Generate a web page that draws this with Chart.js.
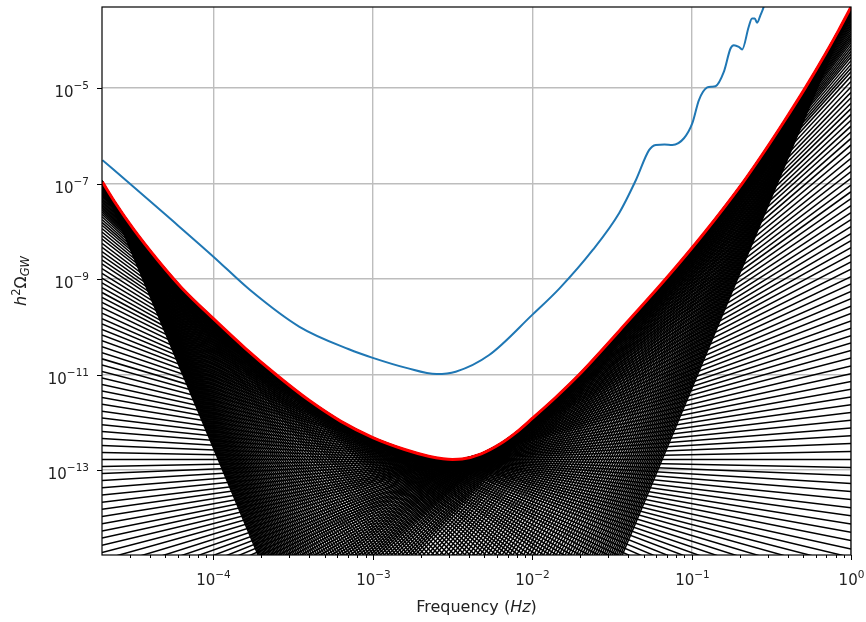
<!DOCTYPE html>
<html>
<head>
<meta charset="utf-8">
<script src="https://cdn.jsdelivr.net/npm/chart.js@4/dist/chart.umd.min.js"></script>
<style>
  html, body { margin: 0; padding: 0; background: #fff; }
</style>
</head>
<body>
<canvas id="plsChart" width="866" height="622"></canvas>
<script>
// power-law integrated sensitivity (log10 units)
const plsLogFreq  = [-4.696, -4.62, -4.5, -4.35, -4.2, -4.0, -3.8, -3.6, -3.4, -3.2, -3.0, -2.8, -2.65, -2.56, -2.5, -2.44, -2.32, -2.2, -2.1, -2.0, -1.85, -1.705, -1.45, -1.163, -0.92, -0.683, -0.55, -0.42, -0.286, -0.16, -0.077, 0];
const plsLogOmega = [-6.97, -7.38, -7.96, -8.60, -9.18, -9.83, -10.45, -11.02, -11.54, -11.98, -12.32, -12.57, -12.71, -12.765, -12.78, -12.77, -12.66, -12.45, -12.21, -11.92, -11.47, -11.0, -10.07, -9.0, -8.03, -7.0, -6.36, -5.7, -4.99, -4.28, -3.785, -3.30];

// detector noise curve (blue)
const noiseLogFreq  = [-4.696, -4.5, -4.29, -4.0, -3.77, -3.46, -3.15, -3.0, -2.79, -2.6, -2.48, -2.27, -2.0, -1.83, -1.62, -1.455, -1.35, -1.267, -1.225, -1.17, -1.121, -1.048, -0.996, -0.954, -0.902, -0.875, -0.85, -0.798, -0.756, -0.735, -0.704, -0.683, -0.642, -0.621, -0.604, -0.589, -0.568, -0.548, -0.52];
const noiseLogOmega = [-6.51, -7.07, -7.68, -8.53, -9.23, -10.0, -10.47, -10.65, -10.86, -10.99, -10.94, -10.59, -9.75, -9.2, -8.39, -7.62, -6.93, -6.30, -6.19, -6.18, -6.19, -6.05, -5.74, -5.25, -4.985, -4.97, -4.96, -4.66, -4.17, -4.10, -4.135, -4.19, -3.72, -3.54, -3.54, -3.63, -3.47, -3.30, -2.90];

// power-law slopes of the black lines
const slopeFirst = -8;
const slopeLast = 8;
const slopeCount = 241;

const xTickValues = [1e-4, 1e-3, 1e-2, 1e-1, 1];
const yTickValues = [1e-13, 1e-11, 1e-9, 1e-7, 1e-5];
const xRange = [2e-5, 1];
const yRange = [1.66e-15, 5e-4];

const FONT = '"DejaVu Sans", "Liberation Sans", sans-serif';
const GRID = '#bdbdbd';
const TEXT = '#222';

function isMajor(v, list) {
    return list.some(t => Math.abs(Math.log10(t) - Math.log10(v)) < 1e-6);
}

// "10" with a raised exponent, like matplotlib's log labels
function drawPow(ctx, v, x, y, align) {
    const e = Math.round(Math.log10(v));
    const base = '10';
    const ex = (e < 0 ? '\u2212' : '') + Math.abs(e);
    ctx.font = '15px ' + FONT;
    const wb = ctx.measureText(base).width;
    ctx.font = '10.5px ' + FONT;
    const we = ctx.measureText(ex).width;
    const x0 = align === 'right' ? x - wb - we : x - (wb + we) / 2;
    ctx.font = '15px ' + FONT;
    ctx.fillText(base, x0, y);
    ctx.font = '10.5px ' + FONT;
    ctx.fillText(ex, x0 + wb, y - 7.5);
}

// x ticks: majors + minor 2..9 per decade
const xMinor = [];
for (let d = -5; d < 0; d++) {
    for (let k = 2; k <= 9; k++) {
        const v = k * Math.pow(10, d);
        if (v > xRange[0] && v < xRange[1]) xMinor.push(v);
    }
}
const xAllTicks = xTickValues.concat(xMinor).sort((a, b) => a - b);

const plsData = plsLogFreq.map((lf, i) => ({ x: Math.pow(10, lf), y: Math.pow(10, plsLogOmega[i]) }));
const noiseData = noiseLogFreq.map((lf, i) => ({ x: Math.pow(10, lf), y: Math.pow(10, noiseLogOmega[i]) }));

// each power law touches the sensitivity envelope from below
const lxMin = Math.log10(xRange[0]);
const lxMax = Math.log10(xRange[1]);
const powerLawSets = [];
for (let i = 0; i < slopeCount; i++) {
    const beta = slopeFirst + (slopeLast - slopeFirst) * i / (slopeCount - 1);
    let logAmp = Infinity;
    plsLogFreq.forEach((lf, j) => {
        logAmp = Math.min(logAmp, plsLogOmega[j] - beta * lf);
    });
    powerLawSets.push({
        data: [
            { x: xRange[0], y: Math.pow(10, logAmp + beta * lxMin) },
            { x: xRange[1], y: Math.pow(10, logAmp + beta * lxMax) }
        ],
        borderColor: '#000',
        borderWidth: 1.5,
        pointRadius: 0,
        clip: 0
    });
}

const axisDecor = {
    id: 'axisDecor',
    afterDraw(chart) {
        const { ctx, chartArea: a, scales } = chart;
        ctx.save();
        ctx.strokeStyle = '#000';
        ctx.fillStyle = TEXT;
        ctx.lineWidth = 1;
        ctx.textBaseline = 'alphabetic';
        ctx.textAlign = 'left';
        // tick marks + labels
        xAllTicks.forEach(v => {
            const px = Math.round(scales.x.getPixelForValue(v)) + 0.5;
            const major = isMajor(v, xTickValues);
            ctx.beginPath();
            ctx.moveTo(px, a.bottom);
            ctx.lineTo(px, a.bottom + (major ? 5 : 3));
            ctx.stroke();
            if (major) drawPow(ctx, v, px, 585, 'center');
        });
        yTickValues.forEach(v => {
            const py = Math.round(scales.y.getPixelForValue(v)) + 0.5;
            ctx.beginPath();
            ctx.moveTo(a.left, py);
            ctx.lineTo(a.left - 5, py);
            ctx.stroke();
            drawPow(ctx, v, 89, py + 8, 'right');
        });
        // frame
        ctx.lineWidth = 1.2;
        ctx.strokeRect(a.left, a.top, a.right - a.left, a.bottom - a.top);

        // x title: Frequency (Hz)
        const xParts = [
            { t: 'Frequency ', f: '16px ' + FONT },
            { t: '(', f: '16px ' + FONT },
            { t: 'Hz', f: 'italic 16px ' + FONT },
            { t: ')', f: '16px ' + FONT }
        ];
        let w = 0;
        xParts.forEach(p => { ctx.font = p.f; p.w = ctx.measureText(p.t).width; w += p.w; });
        let cx = (a.left + a.right) / 2 - w / 2;
        xParts.forEach(p => { ctx.font = p.f; ctx.fillText(p.t, cx, 612); cx += p.w; });

        // y title: h^2 Omega_GW
        ctx.translate(26, (a.top + a.bottom) / 2);
        ctx.rotate(-Math.PI / 2);
        const yParts = [
            { t: 'h', f: 'italic 16px ' + FONT, dy: 0 },
            { t: '2', f: '11.5px ' + FONT, dy: -6.5 },
            { t: '\u03A9', f: '16px ' + FONT, dy: 0 },
            { t: 'GW', f: 'italic 11.5px ' + FONT, dy: 3 }
        ];
        w = 0;
        yParts.forEach(p => { ctx.font = p.f; p.w = ctx.measureText(p.t).width; w += p.w; });
        cx = -w / 2;
        yParts.forEach(p => { ctx.font = p.f; ctx.fillText(p.t, cx, p.dy); cx += p.w; });
        ctx.restore();
    }
};

new Chart(document.getElementById('plsChart'), {
    type: 'line',
    data: {
        datasets: [
            {
                label: 'PLS',
                data: plsData,
                borderColor: '#ff0000',
                borderWidth: 3,
                pointRadius: 0,
                cubicInterpolationMode: 'monotone',
                clip: 0
            },
            {
                label: 'Noise',
                data: noiseData,
                borderColor: '#1f77b4',
                borderWidth: 2,
                pointRadius: 0,
                cubicInterpolationMode: 'monotone',
                clip: 0
            }
        ].concat(powerLawSets)
    },
    options: {
        responsive: false,
        devicePixelRatio: 1,
        animation: false,
        events: [],
        layout: { padding: { left: 0, right: 15, top: 7, bottom: 0 } },
        plugins: {
            legend: { display: false },
            tooltip: { enabled: false }
        },
        scales: {
            x: {
                type: 'logarithmic',
                min: xRange[0],
                max: xRange[1],
                afterBuildTicks: s => { s.ticks = xAllTicks.map(v => ({ value: v })); },
                afterFit: s => { s.height = 67; s.paddingLeft = 0; s.paddingRight = 0; },
                border: { display: false },
                grid: {
                    drawTicks: false,
                    lineWidth: 1.4,
                    color: c => (c.tick && isMajor(c.tick.value, xTickValues)) ? GRID : 'rgba(0,0,0,0)'
                },
                ticks: { display: false }
            },
            y: {
                type: 'logarithmic',
                min: yRange[0],
                max: yRange[1],
                afterBuildTicks: s => { s.ticks = yTickValues.map(v => ({ value: v })); },
                afterFit: s => { s.width = 102; s.paddingTop = 0; s.paddingBottom = 0; },
                border: { display: false },
                grid: {
                    drawTicks: false,
                    lineWidth: 1.4,
                    color: GRID
                },
                ticks: { display: false }
            }
        }
    },
    plugins: [axisDecor]
});
</script>
</body>
</html>
